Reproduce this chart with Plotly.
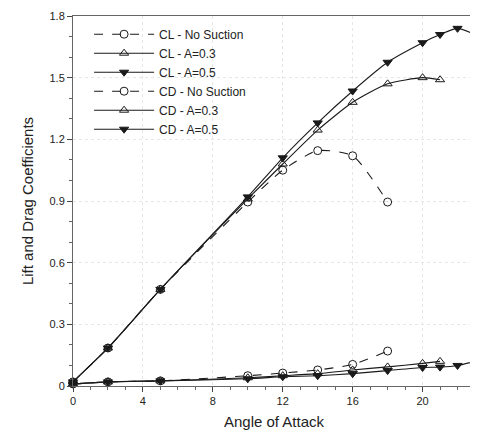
import plotly.graph_objects as go

# Angle of attack values per series
x_cl_ns = [0, 2, 5, 10, 12, 14, 16, 18]
cl_ns = [0.02, 0.185, 0.47, 0.895, 1.05, 1.145, 1.12, 0.895]

x_cl_03 = [0, 2, 5, 10, 12, 14, 16, 18, 20, 21]
cl_03 = [0.02, 0.185, 0.47, 0.91, 1.08, 1.245, 1.38, 1.47, 1.50, 1.49]

x_cl_05 = [0, 2, 5, 10, 12, 14, 16, 18, 20, 21, 22, 23]
cl_05 = [0.02, 0.185, 0.47, 0.92, 1.11, 1.28, 1.435, 1.575, 1.67, 1.71, 1.74, 1.71]

x_cd_ns = [0, 2, 5, 10, 12, 14, 16, 18]
cd_ns = [0.01, 0.02, 0.025, 0.05, 0.063, 0.078, 0.105, 0.17]

x_cd_03 = [0, 2, 5, 10, 12, 14, 16, 18, 20, 21]
cd_03 = [0.01, 0.02, 0.025, 0.04, 0.05, 0.06, 0.078, 0.093, 0.11, 0.12]

x_cd_05 = [0, 2, 5, 10, 12, 14, 16, 18, 20, 21, 22, 23]
cd_05 = [0.01, 0.02, 0.025, 0.035, 0.045, 0.05, 0.06, 0.075, 0.09, 0.092, 0.1, 0.12]

x_ticks = [0, 4, 8, 12, 16, 20]
y_ticks = [0, 0.3, 0.6, 0.9, 1.2, 1.5, 1.8]
y_tick_labels = ["0", "0.3", "0.6", "0.9", "1.2", "1.5", "1.8"]

series = [
    ("CL - No Suction", x_cl_ns, cl_ns, "dash", "circle-open"),
    ("CL - A=0.3", x_cl_03, cl_03, "solid", "triangle-up-open"),
    ("CL - A=0.5", x_cl_05, cl_05, "solid", "triangle-down"),
    ("CD - No Suction", x_cd_ns, cd_ns, "dash", "circle-open"),
    ("CD - A=0.3", x_cd_03, cd_03, "solid", "triangle-up-open"),
    ("CD - A=0.5", x_cd_05, cd_05, "solid", "triangle-down"),
]

fig = go.Figure()
for name, xs, ys, dash, sym in series:
    fig.add_trace(go.Scatter(
        x=xs, y=ys, name=name, mode="lines+markers",
        line=dict(color="#1a1a1a", width=1.1, dash=dash, shape="spline", smoothing=0.6),
        marker=dict(symbol=sym, size=8, color="#1a1a1a",
                    line=dict(color="#1a1a1a", width=1.0)),
        cliponaxis=False,
    ))

# page body has an 8px default margin, so the figure is sized to fit the window
fig.update_layout(
    width=470, height=424,
    margin=dict(l=65, r=3, t=8, b=46, autoexpand=False),
    paper_bgcolor="white", plot_bgcolor="white",
    font=dict(family="Liberation Sans, Arial, sans-serif", color="#222222", size=12),
    showlegend=True,
    legend=dict(x=0.04, y=0.99, xanchor="left", yanchor="top",
                bgcolor="rgba(255,255,255,0)", font=dict(size=12),
                itemwidth=60, tracegroupgap=0),
)
fig.update_xaxes(
    range=[0, 23], tickvals=x_ticks, ticks="outside", ticklen=5,
    tickcolor="#444", showline=True, linecolor="#666", linewidth=1, mirror=True,
    showgrid=True, gridcolor="#e6e6e6", griddash="dot", zeroline=False,
    minor=dict(dtick=1, ticks="outside", ticklen=3, tickcolor="#666", showgrid=False),
    title=dict(text="Angle of Attack", font=dict(size=15), standoff=10),
    tickfont=dict(size=11), automargin=False,
)
fig.update_yaxes(
    range=[0, 1.8], tickvals=y_ticks, ticktext=y_tick_labels, ticks="outside", ticklen=5,
    tickcolor="#444", showline=True, linecolor="#666", linewidth=1, mirror=True,
    showgrid=True, gridcolor="#e6e6e6", griddash="dot", zeroline=False,
    minor=dict(dtick=0.1, ticks="outside", ticklen=3, tickcolor="#666", showgrid=False),
    title=dict(text="Lift and Drag Coefficients", font=dict(size=15), standoff=12),
    tickfont=dict(size=11), automargin=False,
)
fig.write_html("out.html")
